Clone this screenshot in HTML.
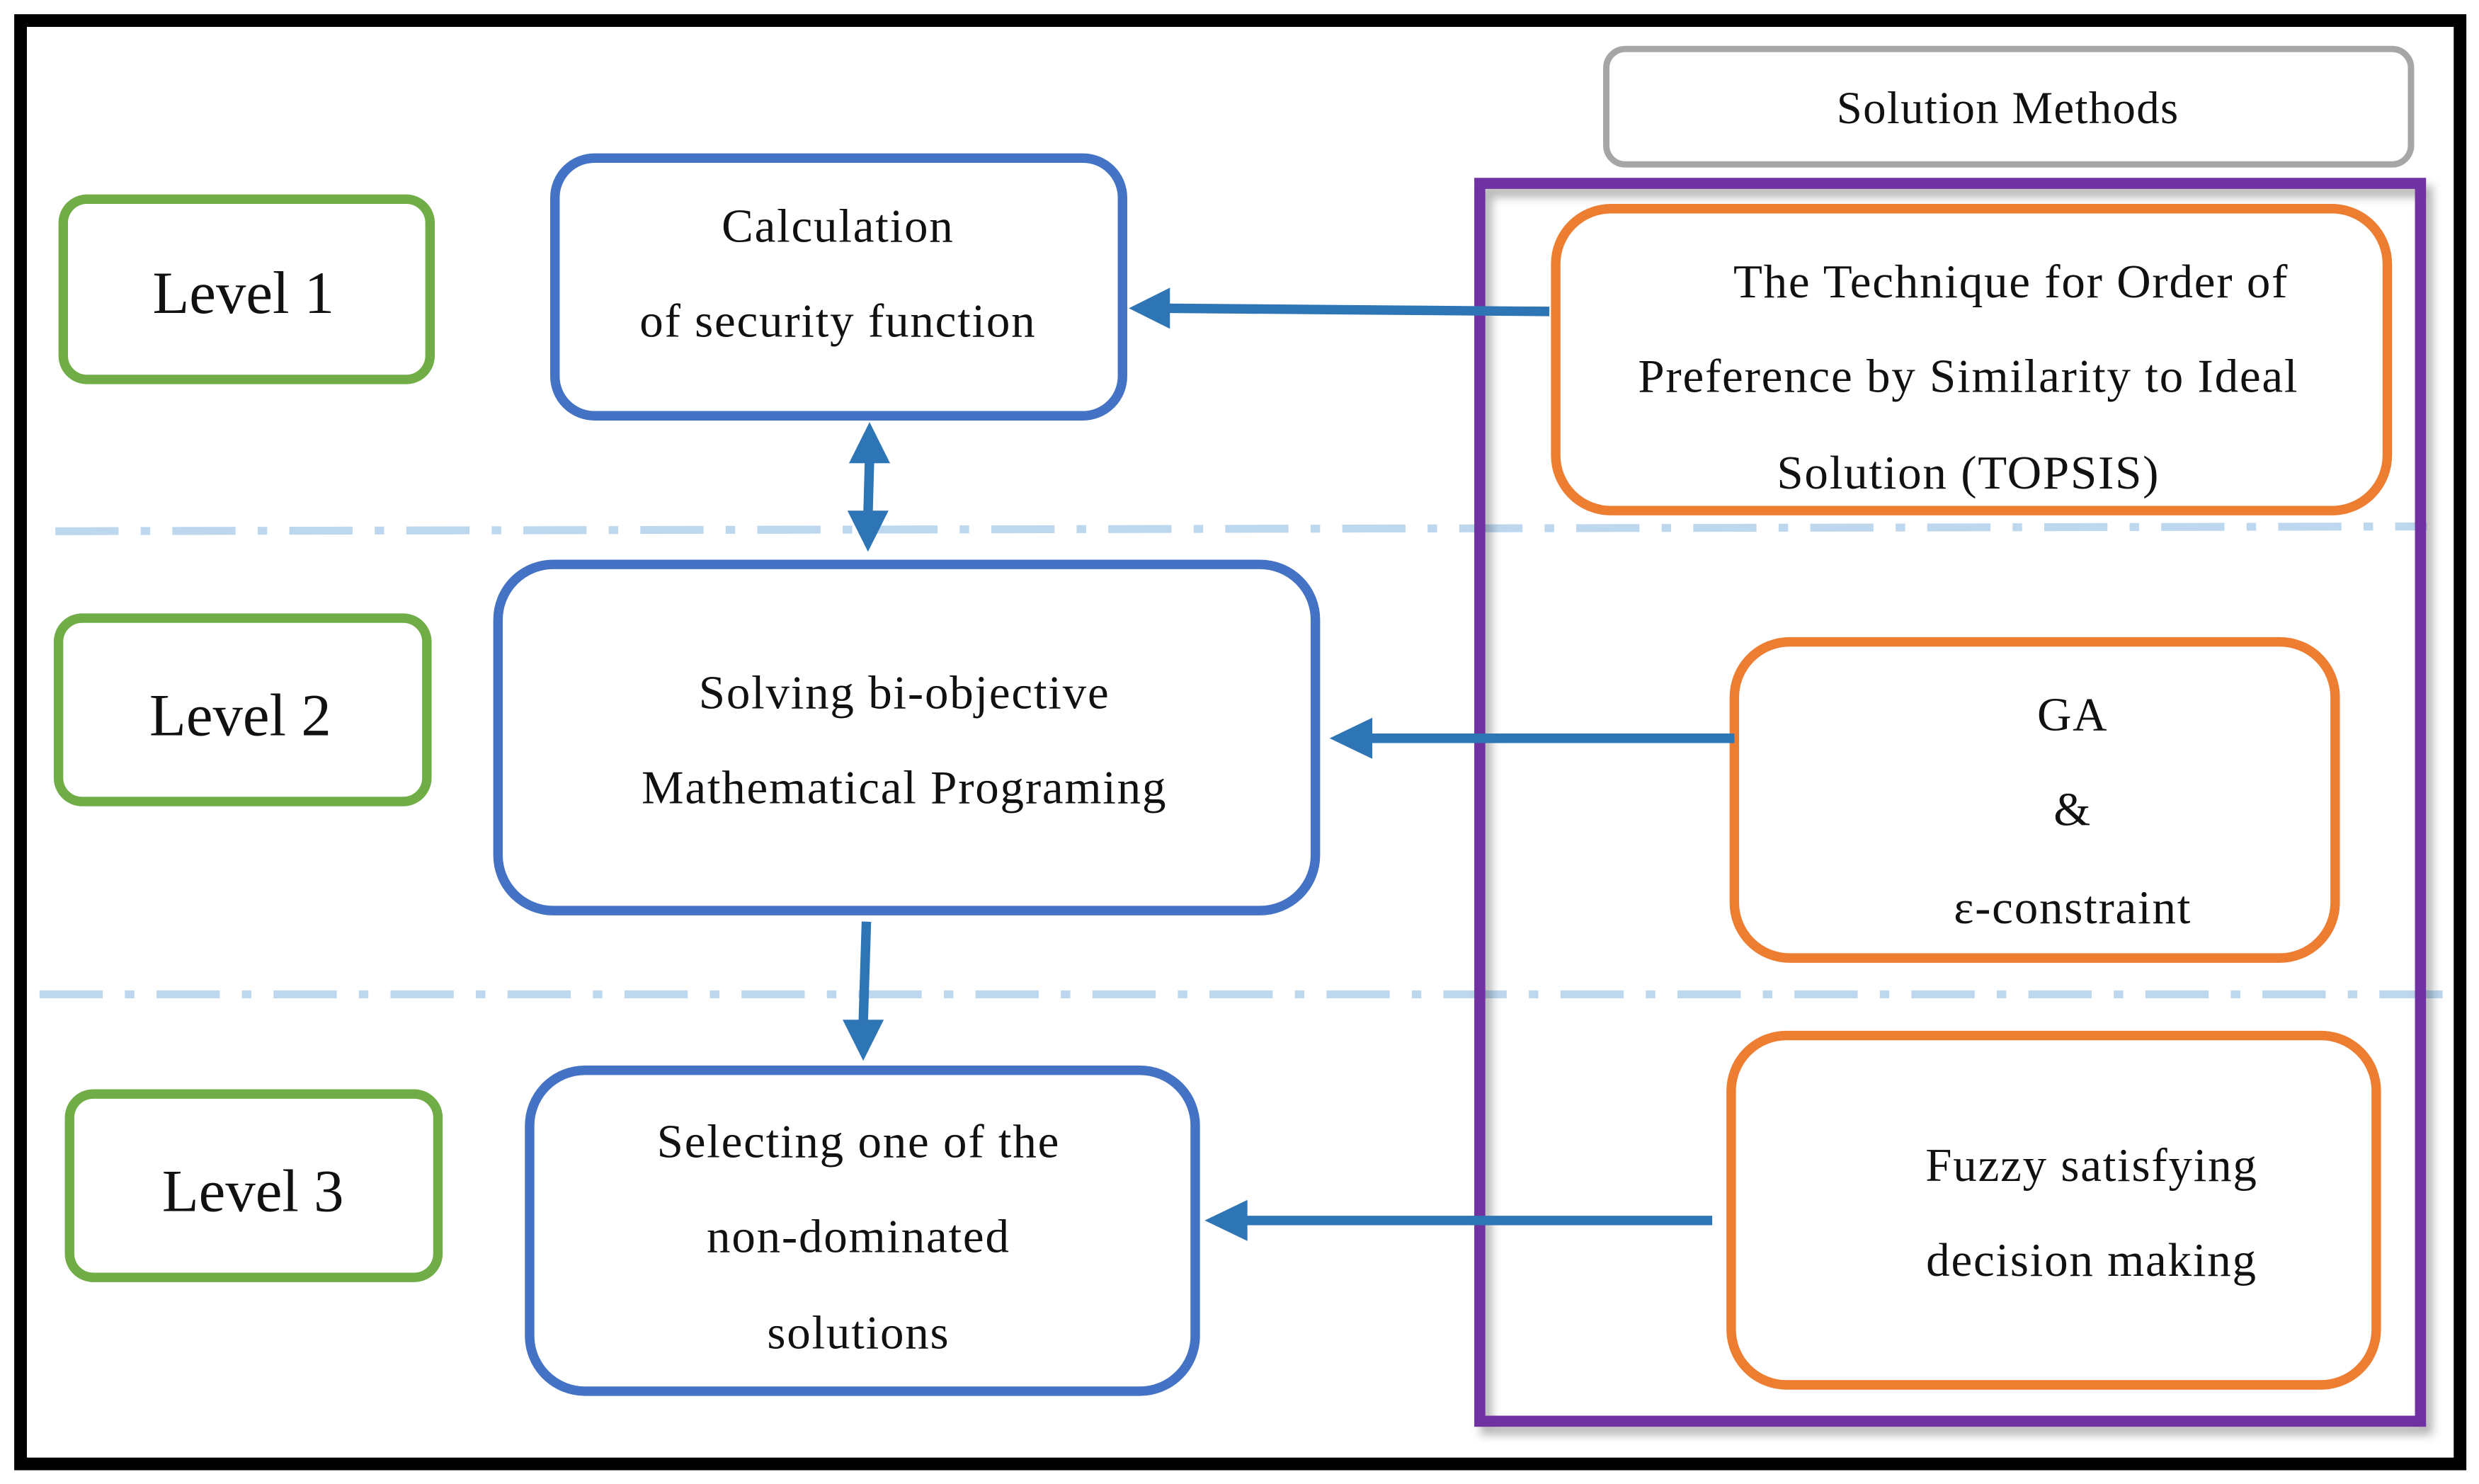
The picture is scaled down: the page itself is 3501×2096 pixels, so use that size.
<!DOCTYPE html>
<html><head><meta charset="utf-8"><style>
html,body{margin:0;padding:0;background:#fff;}
svg{display:block;}
text{font-family:"Liberation Serif",serif;fill:#111;}
</style></head><body>
<svg width="3501" height="2096" viewBox="0 0 1568 938.7" preserveAspectRatio="none" xmlns="http://www.w3.org/2000/svg">
<defs>
<filter id="sh" x="-5%" y="-5%" width="115%" height="115%"><feDropShadow dx="4" dy="5" stdDeviation="3" flood-color="#000" flood-opacity="0.3"/></filter>
</defs>
<rect x="0" y="0" width="1568" height="938.7" fill="#fff"/>
<rect x="13" y="13" width="1543" height="913" fill="#fff" stroke="#000" stroke-width="8"/>
<line x1="35" y1="336" x2="1535" y2="333" stroke="#bdd7ee" stroke-width="5" stroke-dasharray="40,14,6,14"/>
<line x1="25" y1="629" x2="1555" y2="629" stroke="#bdd7ee" stroke-width="5" stroke-dasharray="40,14,6,14"/>
<rect x="1016" y="31" width="509" height="73" rx="12" fill="#fff" stroke="#a6a6a6" stroke-width="4"/>
<text x="1270" y="78" font-size="29" letter-spacing="0.6" text-anchor="middle">Solution Methods</text>
<rect x="936" y="116" width="595" height="783" fill="none" stroke="#7030a0" stroke-width="7" filter="url(#sh)"/>
<g fill="#fff" stroke="#70ad47" stroke-width="6">
<rect x="40" y="126" width="232" height="114" rx="15"/>
<rect x="37" y="391" width="233" height="116" rx="15"/>
<rect x="44" y="692" width="233" height="116" rx="15"/>
</g>
<g font-size="38" text-anchor="middle">
<text x="154" y="198">Level 1</text>
<text x="152" y="465">Level 2</text>
<text x="160" y="766">Level 3</text>
</g>
<g fill="#fff" stroke="#4472c4" stroke-width="6">
<rect x="351" y="100" width="359" height="163" rx="25"/>
<rect x="315" y="357" width="517" height="219" rx="35"/>
<rect x="335" y="677" width="421" height="203" rx="35"/>
</g>
<g font-size="30" letter-spacing="0.8" text-anchor="middle">
<text><tspan x="530" y="153">Calculation</tspan><tspan x="530" y="213">of security function</tspan></text>
<text><tspan x="572" y="448">Solving bi-objective</tspan><tspan x="572" y="508">Mathematical Programing</tspan></text>
<text><tspan x="543" y="732">Selecting one of the</tspan><tspan x="543" y="792">non-dominated</tspan><tspan x="543" y="853">solutions</tspan></text>
</g>
<g fill="#fff" stroke="#ed7d31" stroke-width="6">
<rect x="984" y="132" width="526" height="191" rx="35"/>
<rect x="1097" y="406" width="380" height="200" rx="35"/>
<rect x="1095" y="655" width="408" height="221" rx="35"/>
</g>
<g font-size="30" letter-spacing="0.8" text-anchor="middle">
<text><tspan x="1272" y="188">The Technique for Order of</tspan><tspan x="1245" y="248">Preference by Similarity to Ideal</tspan><tspan x="1245" y="309">Solution (TOPSIS)</tspan></text>
<text><tspan x="1311" y="462">GA</tspan><tspan x="1311" y="522">&amp;</tspan><tspan x="1311" y="584">ε-constraint</tspan></text>
<text><tspan x="1323" y="747">Fuzzy satisfying</tspan><tspan x="1323" y="807">decision making</tspan></text>
</g>
<g stroke="#2e75b6" stroke-width="6" fill="none">
<line x1="980" y1="197" x2="738" y2="195"/>
<line x1="1097" y1="467" x2="866" y2="467"/>
<line x1="1083" y1="772" x2="787" y2="772"/>
<line x1="550" y1="290" x2="549" y2="326"/>
<line x1="548" y1="583" x2="546" y2="647"/>
</g>
<g fill="#2e75b6">
<polygon points="714,195 740,182 740,208"/>
<polygon points="841,467 868,454 868,480"/>
<polygon points="762,772 789,759 789,785"/>
<polygon points="550,267 537,293 563,293"/>
<polygon points="549,349 536,323 562,323"/>
<polygon points="546,671 533,645 559,645"/>
</g>
</svg>
</body></html>
